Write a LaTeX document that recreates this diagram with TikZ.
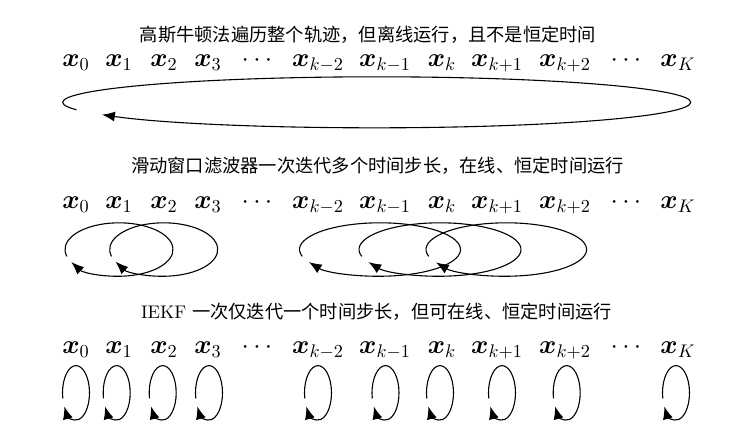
\documentclass[tikz,border=0pt]{standalone}
\usepackage{fontspec}
\usepackage{bm}
\newfontfamily\cjk{Noto Sans CJK SC}
\usetikzlibrary{arrows.meta}
\newcommand\iterloop[6]{\draw[iter] ([shift={(-#5:#2 and #3)}]#1) arc[start angle=-#5,end angle={360-#6},x radius=#2,y radius=#3];}
\begin{document}
\begin{tikzpicture}[x=0.548pt,y=-0.548pt,
  lbl/.style={anchor=base,inner sep=0pt,font=\Large},
  ttl/.style={anchor=base,inner sep=0pt,font=\cjk},
  iter/.style={line width=0.6pt,-{Latex[length=7pt,width=5.5pt]}}]
\useasboundingbox (0,0) rectangle (745,436);
% titles
\node[ttl] (t1) at (368,41) {高斯牛顿法遍历整个轨迹，但离线运行，且不是恒定时间};
\node[ttl] (t2) at (377.5,172) {滑动窗口滤波器一次迭代多个时间步长，在线、恒定时间运行};
\node[ttl] (t3) at (376.5,318) {\rmfamily IEKF\ {\cjk 一次仅迭代一个时间步长，但可在线、恒定时间运行}};
% state labels
\foreach \i/\px/\t in {0/76/\bm{x}_0,1/119/\bm{x}_1,2/164/\bm{x}_2,3/208/\bm{x}_3,4/257/\cdots,5/318/\bm{x}_{k-2},6/385/\bm{x}_{k-1},7/442/\bm{x}_k,8/497/\bm{x}_{k+1},9/565/\bm{x}_{k+2},10/626/\cdots,11/678/\bm{x}_K}{
  \node[lbl] (a\i) at (\px,66.7) {$\t$};
  \node[lbl] (b\i) at (\px,208.5) {$\t$};
  \node[lbl] (c\i) at (\px,353.3) {$\t$};
}
% Gauss-Newton: whole trajectory
\coordinate (e1) at (376.7,102.3);
\iterloop{e1}{314}{25.5}{}{197}{209}
% sliding window
\coordinate (f1) at (119,249.5);
\coordinate (f2) at (163.7,249.5);
\coordinate (f3) at (380,249.5);
\coordinate (f4) at (440,249.5);
\coordinate (f5) at (506.3,249.5);
\iterloop{f1}{54}{26.7}{}{195}{208}
\iterloop{f2}{54}{26.7}{}{195}{207}
\iterloop{f3}{80.5}{26.7}{}{195}{208}
\iterloop{f4}{81}{26.7}{}{195}{208}
\iterloop{f5}{80.3}{26.7}{}{195}{209}
% IEKF: single step loops
\foreach \j/\gx in {0/76,1/116.7,2/162.7,3/209,4/318,5/385.5,6/440,7/502,8/566.7,9/676}{
  \coordinate (g\j) at (\gx,392.8);
  \iterloop{g\j}{13.5}{27.2}{}{192}{210}
}
\end{tikzpicture}
\end{document}
